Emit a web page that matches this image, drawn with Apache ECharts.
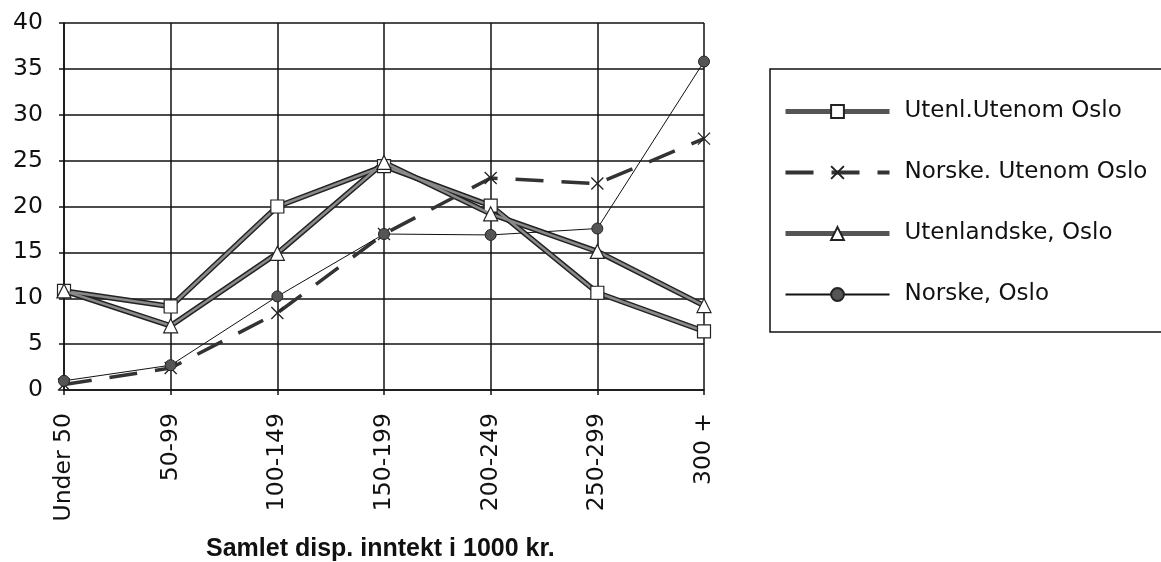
<!DOCTYPE html>
<html>
<head>
<meta charset="utf-8">
<script src="https://cdn.jsdelivr.net/npm/echarts@6/dist/echarts.min.js"></script>
<style>
  html, body { margin: 0; padding: 0; background: #fff; }
  #chart { width: 1161px; height: 562px; }
</style>
</head>
<body>
<div id="chart"></div>
<script>
// kategorier (inntektsintervall)
const categories = ['Under 50', '50-99', '100-149', '150-199', '200-249', '250-299', '300 +']
const yTicks = [0, 5, 10, 15, 20, 25, 30, 35, 40]

// seriene
const utenlUtenomOslo = [10.8, 9.1, 20.0, 24.4, 20.1, 10.6, 6.4]
const norskeUtenomOslo = [0.6, 2.4, 8.4, 17.0, 23.1, 22.5, 27.4]
const utenlandskeOslo = [10.8, 7.0, 14.9, 24.8, 19.2, 15.1, 9.2]
const norskeOslo = [1.0, 2.7, 10.2, 17.0, 16.9, 17.6, 35.8]

const font = 'DejaVu Sans'
const crossPath = 'path://M0,0L10,10M10,0L0,10'

const chart = echarts.init(document.getElementById('chart'), null, { renderer: 'canvas' })

chart.setOption({
  animation: false,
  backgroundColor: '#fff',
  title: {
    text: 'Samlet disp. inntekt i 1000 kr.',
    left: 206,
    top: 537,
    padding: 0,
    textStyle: {
      fontFamily: 'Liberation Sans',
      fontWeight: 'bold',
      fontSize: 25,
      color: '#111'
    }
  },
  grid: { left: 64, right: 457, top: 23, bottom: 172 },
  legend: {
    orient: 'vertical',
    left: 770,
    top: 69,
    padding: [31, 80, 26, 13],
    itemGap: 38,
    itemWidth: 104,
    itemHeight: 16,
    borderColor: '#111',
    borderWidth: 1.5,
    borderRadius: 0,
    data: [
      { name: 'Utenl.Utenom Oslo', lineStyle: { color: '#555', width: 5 } },
      { name: 'Norske. Utenom Oslo', lineStyle: { color: '#333', width: 4 } },
      { name: 'Utenlandske, Oslo', lineStyle: { color: '#555', width: 5 } },
      { name: 'Norske, Oslo' }
    ],
    textStyle: {
      fontFamily: font,
      fontSize: 23,
      color: '#111',
      padding: [0, 0, 0, 10]
    }
  },
  xAxis: {
    type: 'category',
    data: categories,
    boundaryGap: false,
    axisLine: { lineStyle: { color: '#111', width: 1.5 } },
    axisTick: { show: true, length: 5, lineStyle: { color: '#111', width: 1.5 } },
    splitLine: { show: true, lineStyle: { color: '#111', width: 1.5 } },
    axisLabel: {
      rotate: 90,
      margin: 23,
      fontFamily: font,
      fontSize: 23.5,
      color: '#111'
    }
  },
  yAxis: {
    type: 'value',
    min: yTicks[0],
    max: yTicks[yTicks.length - 1],
    interval: 5,
    axisLine: { show: true, lineStyle: { color: '#111', width: 1.5 } },
    axisTick: { show: true, length: 5, lineStyle: { color: '#111', width: 1.5 } },
    splitLine: { show: true, lineStyle: { color: '#111', width: 1.5 } },
    axisLabel: {
      margin: 21,
      fontFamily: font,
      fontSize: 23.5,
      color: '#111'
    }
  },
  series: [
    // mørk kant under de tykke linjene
    {
      name: 'bg1',
      type: 'line',
      data: utenlUtenomOslo,
      showSymbol: false,
      silent: true,
      z: 1,
      lineStyle: { color: '#222', width: 5.5 }
    },
    {
      name: 'bg2',
      type: 'line',
      data: utenlandskeOslo,
      showSymbol: false,
      silent: true,
      z: 1,
      lineStyle: { color: '#222', width: 5.5 }
    },
    {
      name: 'Utenl.Utenom Oslo',
      type: 'line',
      data: utenlUtenomOslo,
      z: 3,
      symbol: 'rect',
      symbolSize: 13,
      lineStyle: { color: '#8a8a8a', width: 2.5 },
      itemStyle: { color: '#fff', borderColor: '#222', borderWidth: 1.2 }
    },
    {
      name: 'Norske. Utenom Oslo',
      type: 'line',
      data: norskeUtenomOslo,
      z: 2,
      symbol: crossPath,
      symbolSize: 12,
      lineStyle: { color: '#333', width: 3.5, type: [28, 18] },
      itemStyle: { color: 'rgba(0,0,0,0)', borderColor: '#222', borderWidth: 1.3 }
    },
    {
      name: 'Utenlandske, Oslo',
      type: 'line',
      data: utenlandskeOslo,
      z: 4,
      symbol: 'triangle',
      symbolSize: 14,
      lineStyle: { color: '#8a8a8a', width: 2.5 },
      itemStyle: { color: '#fff', borderColor: '#222', borderWidth: 1.2 }
    },
    {
      name: 'Norske, Oslo',
      type: 'line',
      data: norskeOslo,
      z: 2,
      symbol: 'circle',
      symbolSize: 11,
      lineStyle: { color: '#111', width: 1 },
      itemStyle: { color: '#555', borderColor: '#222', borderWidth: 1 }
    }
  ]
})
</script>
</body>
</html>
